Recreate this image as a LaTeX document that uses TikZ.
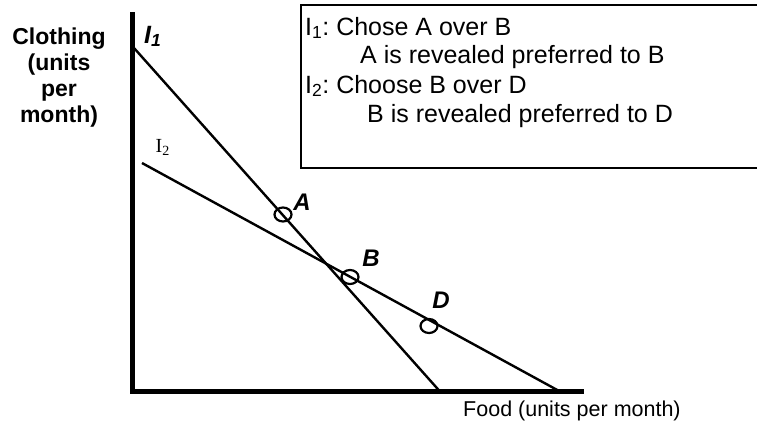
\documentclass[tikz,border=0pt]{standalone}
\usepackage{fontspec}
\setmainfont{Liberation Sans}
\newfontfamily\timesfont{Liberation Serif}
\frenchspacing
\tikzset{
  axis/.style={line width=5pt, line join=miter},
  budget/.style={line width=2.4pt},
  pt/.style={draw, line width=2.2pt, ellipse, minimum width=17pt, minimum height=14pt, inner sep=0pt},
  ptlabel/.style={inner sep=0pt, font=\fontsize{24}{24}\selectfont\bfseries\itshape},
  boxtext/.style={inner sep=0pt, anchor=base west, font=\fontsize{25}{29}\selectfont},
}
\usetikzlibrary{shapes.geometric}
\begin{document}
\begin{tikzpicture}[x=1pt,y=-1pt]
\useasboundingbox (0,0) rectangle (757,424);
% axes
\coordinate (ytop) at (132,12);
\coordinate (origin) at (132,391.5);
\coordinate (xend) at (584,391.5);
\draw[axis] (ytop) -- (origin) -- (xend);
% budget lines
\coordinate (i1a) at (134,48);
\coordinate (i1b) at (440,391.5);
\coordinate (i2a) at (142,163);
\coordinate (i2b) at (560,391.5);
\draw[budget] (i1a) -- (i1b);
\draw[budget] (i2a) -- (i2b);
% points
\node[pt] (A) at (283,214.5) {};
\node[pt] (B) at (350,277) {};
\node[pt] (D) at (429,326) {};
\node[ptlabel] (Al) at (302,202) {A};
\node[ptlabel] (Bl) at (371,258.5) {B};
\node[ptlabel] (Dl) at (441,300) {D};
% line labels
\node[inner sep=0pt, anchor=base west, font=\fontsize{25}{25}\selectfont\bfseries\itshape] (I1l) at (144,43) {I\textsubscript{1}};
\node[inner sep=0pt, anchor=base west, font=\fontsize{20}{20}\selectfont\timesfont] (I2l) at (155.5,152) {I\textsubscript{2}};
% axis labels
\node[inner sep=0pt, anchor=base, font=\fontsize{23}{25.7}\selectfont\bfseries, align=center] (ylab) at (59,122) {Clothing\\(units\\per\\month)};
\node[inner sep=0pt, anchor=base west, font=\fontsize{21.5}{21.5}\selectfont] (xlab) at (463,416) {Food (units per month)};
% text box
\coordinate (btl) at (300.5,5);
\coordinate (bbl) at (300.5,168);
\draw[line width=2pt] (757,5) -- (btl) -- (bbl) -- (757,168);
\node[boxtext] (t1) at (305,35) {I\textsubscript{1}: Chose A over B};
\node[boxtext] (t2) at (360,63.5) {A is revealed preferred to B};
\node[boxtext] (t3) at (305,93) {I\textsubscript{2}: Choose B over D};
\node[boxtext] (t4) at (367,122) {B is revealed preferred to D};
\end{tikzpicture}
\end{document}
